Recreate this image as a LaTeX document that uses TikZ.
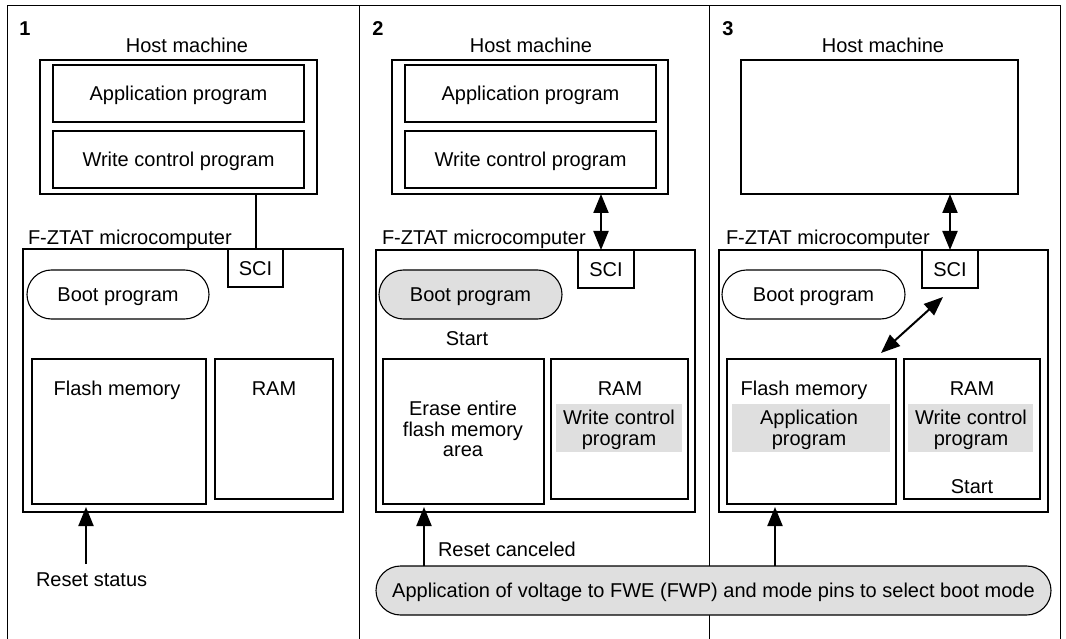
\documentclass[tikz,border=0pt]{standalone}
\usepackage{fontspec}
\setmainfont{Liberation Sans}
\usetikzlibrary{arrows.meta}
\definecolor{shade}{HTML}{DFDFDF}
\begin{document}
\begin{tikzpicture}[x=1pt,y=-1pt,
  every node/.style={font=\fontsize{20}{20.5}\selectfont, inner sep=0pt, outer sep=0pt},
  box/.style={draw, line width=1.1pt, anchor=north west},
  txt/.style={text height=14.3pt, text depth=0pt},
  gbox/.style={fill=shade, anchor=north west},
  stad/.style={box, rounded corners=24.5pt, txt},
  num/.style={txt, font=\fontsize{20}{20.5}\selectfont\bfseries},
  arr/.style={line width=2pt, -{Triangle[length=19pt,width=15pt]}},
  darr/.style={line width=2pt, {Triangle[length=19pt,width=15pt]}-{Triangle[length=19pt,width=15pt]}},
  frame/.style={line width=1pt}]
\useasboundingbox (0,0) rectangle (1066,639);
% frame and dividers
\draw[frame] (7,639) -- (7,6) -- (1060,6) -- (1060,639);
\draw[frame] (359,6) -- (359,639);
\draw[frame] (709,6) -- (709,639);

% ---------------- Panel 1 ----------------
\node[num] (n1) at (25,28) {1};
\node[txt] (hm1) at (187,45) {Host machine};
\node[box,minimum width=277pt,minimum height=134pt] (host1) at (40,60) {};
\node[box,txt,minimum width=251pt,minimum height=57pt] (app1) at (53,65) {Application program};
\node[box,txt,minimum width=251pt,minimum height=57pt] (wr1) at (53,131) {Write control program};
\node[txt,anchor=west] (fz1) at (28,237) {F-ZTAT microcomputer};
\node[box,minimum width=320pt,minimum height=263pt] (mc1) at (23,249) {};
\node[box,txt,minimum width=55pt,minimum height=38pt] (sci1) at (228,249) {SCI};
\node[stad,minimum width=182pt,minimum height=49pt] (boot1) at (27,270) {Boot program};
\node[box,minimum width=174pt,minimum height=145pt] (fl1) at (32,359) {};
\node[box,minimum width=118pt,minimum height=140pt] (ram1) at (215,359) {};
\node[txt] (flt1) at (117,388) {Flash memory};
\node[txt] (ramt1) at (274,388) {RAM};
\draw[line width=2pt] (host1.south -| sci1.north) -- (sci1.north);
\coordinate (s1) at (86,564);
\coordinate (t1) at (86,507);
\draw[arr] (s1) -- (t1);
\node[txt,anchor=west] (rs1) at (36,579) {Reset status};

% ---------------- Panel 2 ----------------
\node[num] (n2) at (378,28) {2};
\node[txt] (hm2) at (531,45) {Host machine};
\node[box,minimum width=276pt,minimum height=134pt] (host2) at (392,60) {};
\node[box,txt,minimum width=251pt,minimum height=57pt] (app2) at (405,65) {Application program};
\node[box,txt,minimum width=251pt,minimum height=57pt] (wr2) at (405,131) {Write control program};
\node[txt,anchor=west] (fz2) at (382,237) {F-ZTAT microcomputer};
\node[box,minimum width=319pt,minimum height=262pt] (mc2) at (376,250) {};
\node[box,txt,minimum width=56pt,minimum height=38pt] (sci2) at (578,250) {SCI};
\node[stad,fill=shade,minimum width=183pt,minimum height=49pt] (boot2) at (379,270) {Boot program};
\node[txt] (st2) at (467,338) {Start};
\node[box,minimum width=161pt,minimum height=145pt] (er2) at (383,359) {};
\node[align=center] (ert2) at (463,429) {Erase entire\\flash memory\\area};
\node[box,minimum width=137pt,minimum height=140pt] (ram2) at (551,359) {};
\node[txt] (ramt2) at (620,388) {RAM};
\node[gbox,minimum width=126pt,minimum height=48pt] (g2) at (556,404) {};
\node[align=center] (wct2) at (619,430) {Write control\\program};
\coordinate (p2) at (601,0);
\draw[darr] (host2.south -| p2) -- (sci2.north -| p2);

% ---------------- Panel 3 ----------------
\node[num] (n3) at (728,28) {3};
\node[txt] (hm3) at (883,45) {Host machine};
\node[box,minimum width=277pt,minimum height=134pt] (host3) at (741,60) {};
\node[txt,anchor=west] (fz3) at (726,237) {F-ZTAT microcomputer};
\node[box,minimum width=329pt,minimum height=262pt] (mc3) at (719,250) {};
\node[box,txt,minimum width=56pt,minimum height=38pt] (sci3) at (922,250) {SCI};
\node[stad,minimum width=183pt,minimum height=49pt] (boot3) at (722,270) {Boot program};
\node[box,minimum width=169pt,minimum height=145pt] (fl3) at (727,359) {};
\node[txt] (flt3) at (804,388) {Flash memory};
\node[gbox,minimum width=158pt,minimum height=48pt] (g3a) at (732,404) {};
\node[align=center] (apt3) at (809,430) {Application\\program};
\node[box,minimum width=136pt,minimum height=140pt] (ram3) at (904,359) {};
\node[txt] (ramt3) at (972,388) {RAM};
\node[gbox,minimum width=125pt,minimum height=48pt] (g3b) at (908,404) {};
\node[align=center] (wct3) at (971,430) {Write control\\program};
\node[txt] (st3) at (972,486) {Start};
\draw[darr] (host3.south -| sci3.north) -- (sci3.north);
\coordinate (d1) at (943,297);
\coordinate (d2) at (881,353);
\draw[darr] (d1) -- (d2);

% ---------------- Bottom ----------------
\node[stad,fill=shade,minimum width=675pt,minimum height=49pt] (vs) at (376,566)
  {Application of voltage to FWE (FWP) and mode pins to select boot mode};
\coordinate (t2) at (424,507);
\coordinate (t3) at (775,507);
\draw[arr] (vs.north -| t2) -- (t2);
\draw[arr] (vs.north -| t3) -- (t3);
\node[txt,anchor=west] (rc2) at (438,549) {Reset canceled};
\end{tikzpicture}
\end{document}
